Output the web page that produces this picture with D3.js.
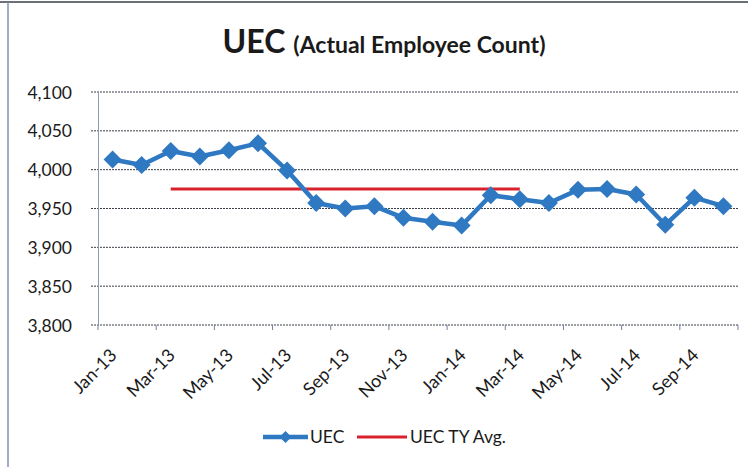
<!DOCTYPE html>
<html>
<head>
<meta charset="utf-8">
<script src="https://cdn.jsdelivr.net/npm/d3@7"></script>
<style>
  body { margin: 0; background: #fff; }
  text { font-family: Lato, "Open Sans", sans-serif; fill: #1a1a1a; }
</style>
</head>
<body>
<div id="chart"></div>
<script>
// values
const months = ['Jan-13','Feb-13','Mar-13','Apr-13','May-13','Jun-13','Jul-13','Aug-13','Sep-13','Oct-13','Nov-13','Dec-13',
  'Jan-14','Feb-14','Mar-14','Apr-14','May-14','Jun-14','Jul-14','Aug-14','Sep-14','Oct-14'];
const uec = [4013, 4006, 4024, 4017, 4025, 4034, 3999, 3957, 3950, 3953, 3938, 3933,
  3928, 3967, 3962, 3957, 3974, 3975, 3968, 3929, 3964, 3953];
const uecAvg = [null, null, 3975, 3975, 3975, 3975, 3975, 3975, 3975, 3975, 3975, 3975,
  3975, 3975, 3975, null, null, null, null, null, null, null];
const yTicks = [3800, 3850, 3900, 3950, 4000, 4050, 4100];
const seriesNames = ['UEC', 'UEC TY Avg.'];

const W = 748, H = 467;
const blue = '#2f78c2', red = '#d8232f';

const svg = d3.select('#chart').append('svg').attr('width', W).attr('height', H);

// outer chart frame (partly cut off in the scan)
svg.append('line').attr('x1', 0).attr('x2', W).attr('y1', 2).attr('y2', 2).attr('stroke', '#6a6f78').attr('stroke-width', 2);
svg.append('line').attr('x1', 8).attr('x2', 8).attr('y1', 2).attr('y2', H).attr('stroke', '#7f93b3').attr('stroke-width', 1.5);

const x = d3.scaleBand().domain(months).range([98, 738]);
const y = d3.scaleLinear().domain([3800, 4100]).range([325, 92]);
const cx = (i) => x(months[i]) + x.bandwidth() / 2;

// title
const title = svg.append('text').attr('x', 384).attr('y', 53).attr('text-anchor', 'middle').attr('font-weight', 'bold');
title.append('tspan').attr('font-size', 32).text('UEC');
title.append('tspan').attr('font-size', 23).attr('dx', 8).text('(Actual Employee Count)');

// gridlines
svg.append('g').selectAll('line').data(yTicks).join('line')
  .attr('x1', 91).attr('x2', 738)
  .attr('y1', d => y(d)).attr('y2', d => y(d))
  .attr('stroke', '#3c3f48').attr('stroke-width', 1).attr('stroke-dasharray', '2,1');

// y axis labels
const yAxis = svg.append('g').attr('transform', 'translate(98,0)')
  .call(d3.axisLeft(y).tickValues(yTicks).tickFormat(d3.format(',')).tickSize(0).tickPadding(26));
yAxis.select('.domain').attr('stroke', '#8a9cba');
yAxis.selectAll('text').attr('font-size', 17.5).attr('dy', '0.35em');

// x axis tick marks every second month, at category boundaries
const tickPos = months.filter((m, i) => i % 2 === 0).map(m => x(m)).concat([x.range()[1]]);
svg.append('g').selectAll('line').data(tickPos).join('line')
  .attr('x1', d => d).attr('x2', d => d).attr('y1', 325).attr('y2', 330)
  .attr('stroke', '#6f83a6').attr('stroke-width', 1);

// labels on every second category, rotated
svg.append('g').selectAll('text').data(months).join('text')
  .filter((m, i) => i % 2 === 0)
  .attr('font-size', 18).attr('text-anchor', 'end').attr('dy', '0.35em')
  .attr('transform', (m, i) => 'translate(' + (cx(i * 2) + 1) + ',352) rotate(-45)')
  .text(m => m);

// average line
const line = d3.line().defined(d => d != null).x((d, i) => cx(i)).y(d => y(d));
svg.append('path').datum(uecAvg).attr('d', line).attr('fill', 'none').attr('stroke', red).attr('stroke-width', 3);

// UEC series
svg.append('path').datum(uec).attr('d', line).attr('fill', 'none').attr('stroke', blue).attr('stroke-width', 4.5).attr('stroke-linejoin', 'round');
const diamond = 'M0,-9L9,0L0,9L-9,0Z';
svg.append('g').selectAll('path').data(uec).join('path')
  .attr('d', diamond)
  .attr('transform', (d, i) => 'translate(' + cx(i) + ',' + y(d) + ')')
  .attr('fill', blue);

// legend
const leg = svg.append('g').attr('transform', 'translate(0,437)');
leg.append('line').attr('x1', 263).attr('x2', 308).attr('stroke', blue).attr('stroke-width', 4.5);
leg.append('path').attr('d', 'M0,-6L6,0L0,6L-6,0Z').attr('transform', 'translate(285.5,0)').attr('fill', blue);
leg.append('text').attr('x', 310).attr('dy', '0.35em').attr('font-size', 17.5).text(seriesNames[0]);
leg.append('line').attr('x1', 357).attr('x2', 407).attr('stroke', red).attr('stroke-width', 3);
leg.append('text').attr('x', 410).attr('dy', '0.35em').attr('font-size', 17.5).text(seriesNames[1]);
</script>
</body>
</html>
